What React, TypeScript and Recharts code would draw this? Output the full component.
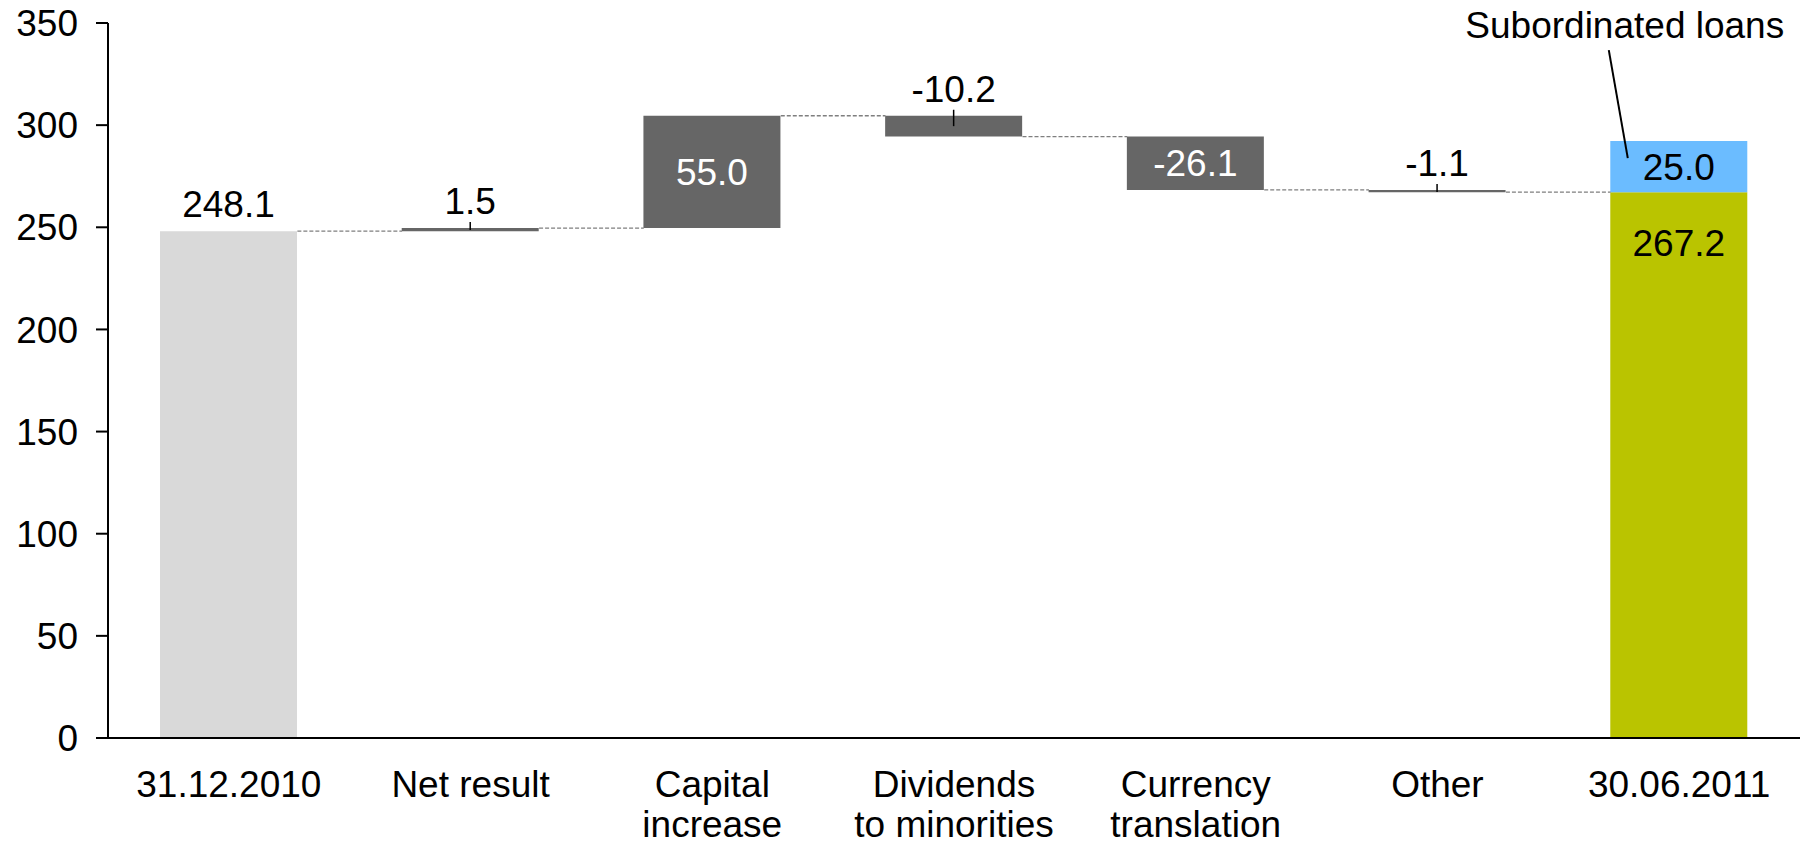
import React from 'react';
import { ComposedChart, Bar, Line, XAxis, YAxis, LabelList } from 'recharts';

const FONT = '"Liberation Sans", Arial, Helvetica, sans-serif';
const FS = 37;
const BAR_W = 137;

const categories = [
  '31.12.2010',
  'Net result',
  'Capital\nincrease',
  'Dividends\nto minorities',
  'Currency\ntranslation',
  'Other',
  '30.06.2011',
];
const openingEquity = 248.1;
const changes = [1.5, 55.0, -10.2, -26.1, -1.1];
const closingEquity = 267.2;
const subordinatedLoans = 25.0;
const yTicks = [0, 50, 100, 150, 200, 250, 300, 350];
const annotationText = 'Subordinated loans';

const COLORS = {
  start: '#d9d9d9',
  change: '#666666',
  end: '#bac400',
  loans: '#6bbcff',
  connector: '#7f7f7f',
};

type Row = {
  category: string;
  base: number;
  start?: number;
  change?: number;
  delta?: number;
  end?: number;
  loans?: number;
  level: number;
};

const rows: Row[] = [];
let running = openingEquity;
rows.push({ category: categories[0], base: 0, start: openingEquity, level: openingEquity });
changes.forEach((d, k) => {
  const from = running;
  running = Math.round((running + d) * 10) / 10;
  rows.push({
    category: categories[k + 1],
    base: Math.min(from, running),
    change: Math.abs(d),
    delta: d,
    level: running,
  });
});
rows.push({
  category: categories[categories.length - 1],
  base: 0,
  end: closingEquity,
  loans: subordinatedLoans,
  level: closingEquity,
});

const fmt = (v: number) => v.toFixed(1);

const StartLabel = (p: any) => {
  if (p.value == null) return null;
  const x = Number(p.x), y = Number(p.y), w = Number(p.width);
  return (
    <text x={x + w / 2} y={y - 14} textAnchor="middle" fontSize={FS} fontFamily={FONT} fill="#000">
      {fmt(Number(p.value))}
    </text>
  );
};

const ChangeLabel = (p: any) => {
  if (p.value == null) return null;
  const v = Number(p.value);
  const x = Number(p.x), y = Number(p.y), w = Number(p.width), h = Number(p.height);
  const cx = x + w / 2;
  if (Math.abs(v) < 15) {
    return (
      <g>
        <line x1={cx} x2={cx} y1={y - 6} y2={y + Math.max(h / 2, 2)} stroke="#000" strokeWidth={1.5} />
        <text x={cx} y={y - 14} textAnchor="middle" fontSize={FS} fontFamily={FONT} fill="#000">
          {fmt(v)}
        </text>
      </g>
    );
  }
  return (
    <text x={cx} y={y + h / 2 + 13} textAnchor="middle" fontSize={FS} fontFamily={FONT} fill="#fff">
      {fmt(v)}
    </text>
  );
};

const EndLabel = (p: any) => {
  if (p.value == null) return null;
  const x = Number(p.x), y = Number(p.y), w = Number(p.width);
  return (
    <text x={x + w / 2} y={y + 64} textAnchor="middle" fontSize={FS} fontFamily={FONT} fill="#000">
      {fmt(Number(p.value))}
    </text>
  );
};

const LoansLabel = (p: any) => {
  if (p.value == null) return null;
  const x = Number(p.x), y = Number(p.y), w = Number(p.width), h = Number(p.height);
  const cx = x + w / 2;
  return (
    <g>
      <text x={cx} y={y + h / 2 + 13} textAnchor="middle" fontSize={FS} fontFamily={FONT} fill="#000">
        {fmt(Number(p.value))}
      </text>
      <line x1={cx - 70} y1={y - 91} x2={cx - 51} y2={y + 17} stroke="#000" strokeWidth={2} />
      <text x={cx - 54} y={y - 103} textAnchor="middle" fontSize={FS} fontFamily={FONT} fill="#000">
        {annotationText}
      </text>
    </g>
  );
};

const XTick = (p: any) => {
  const x = Number(p.x), y = Number(p.y);
  const lines = String(p.payload?.value ?? '').split('\n');
  return (
    <text x={x} y={y} textAnchor="middle" fontSize={FS} fontFamily={FONT} fill="#000">
      {lines.map((l, i) => (
        <tspan key={i} x={x} dy={i === 0 ? 59 : 39.5}>
          {l}
        </tspan>
      ))}
    </text>
  );
};

// connector dashes between neighbouring bars, drawn from the level points of a hidden line
const dotRegistry: Record<number, { x: number; y: number }> = {};
const ConnectorDot = (p: any) => {
  const i = Number(p.index);
  const cx = Number(p.cx), cy = Number(p.cy);
  dotRegistry[i] = { x: cx, y: cy };
  const pts = Array.isArray(p.points) ? p.points : null;
  const prev = i > 0 ? (pts && pts[i - 1] ? { x: Number(pts[i - 1].x), y: Number(pts[i - 1].y) } : dotRegistry[i - 1]) : null;
  if (!prev) return <g key={`cd${i}`} />;
  return (
    <line
      key={`cd${i}`}
      x1={prev.x + BAR_W / 2}
      x2={cx - BAR_W / 2}
      y1={prev.y}
      y2={prev.y}
      stroke={COLORS.connector}
      strokeWidth={1.3}
      strokeDasharray="4 2"
    />
  );
};

export default function App() {
  return (
    <div style={{ position: 'absolute', left: 0, top: 0, width: 1808, height: 846, background: '#fff' }}>
      <ComposedChart
        width={1808}
        height={846}
        data={rows}
        margin={{ top: 23, right: 8, bottom: 8, left: 0 }}
        barSize={BAR_W}
      >
        <XAxis
          dataKey="category"
          height={100}
          tickLine={false}
          tickSize={0}
          tickMargin={0}
          axisLine={{ stroke: '#000', strokeWidth: 2 }}
          tick={<XTick />}
          interval={0}
        />
        <YAxis
          width={108}
          domain={[0, 350]}
          ticks={yTicks}
          tickSize={12}
          tickMargin={18}
          axisLine={{ stroke: '#000', strokeWidth: 2 }}
          tickLine={{ stroke: '#000', strokeWidth: 2 }}
          tick={{ fill: '#000', fontSize: FS, fontFamily: FONT }}
          allowDataOverflow
        />
        <Bar dataKey="base" stackId="w" fill="transparent" isAnimationActive={false} />
        <Bar dataKey="start" stackId="w" fill={COLORS.start} isAnimationActive={false}>
          <LabelList dataKey="start" content={StartLabel} />
        </Bar>
        <Bar dataKey="change" stackId="w" fill={COLORS.change} isAnimationActive={false}>
          <LabelList dataKey="delta" content={ChangeLabel} />
        </Bar>
        <Bar dataKey="end" stackId="w" fill={COLORS.end} isAnimationActive={false}>
          <LabelList dataKey="end" content={EndLabel} />
        </Bar>
        <Bar dataKey="loans" stackId="w" fill={COLORS.loans} isAnimationActive={false}>
          <LabelList dataKey="loans" content={LoansLabel} />
        </Bar>
        <Line
          dataKey="level"
          stroke="none"
          strokeWidth={0}
          dot={ConnectorDot}
          activeDot={false}
          legendType="none"
          isAnimationActive={false}
        />
      </ComposedChart>
    </div>
  );
}
